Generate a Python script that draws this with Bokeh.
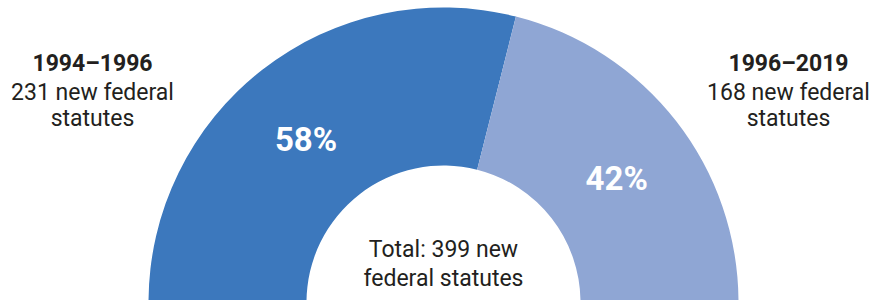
import math
from bokeh.plotting import figure
from bokeh.models import ColumnDataSource
from bokeh.core.properties import value
from bokeh.embed import file_html
from bokeh.resources import INLINE

# ---- data ----
periods = ["1994–1996", "1996–2019"]
counts = [231, 168]
colors = ["#3c78bd", "#8fa6d4"]
total_label = ["Total: 399 new", "federal statutes"]

total = sum(counts)
fracs = [c / total for c in counts]
pct_labels = [f"{round(f * 100)}%" for f in fracs]

# ---- geometry (plot units == pixels, y measured up from the bottom) ----
W, H = 873, 300
cx, cy = 443, -2
r_in, r_out = 137, 295

# semicircle: first slice on the left (from pi going clockwise)
starts, ends, mids = [], [], []
a = math.pi
for f in fracs:
    b = a - f * math.pi
    starts.append(b)
    ends.append(a)
    mids.append((a + b) / 2)
    a = b

src = ColumnDataSource(dict(start=starts, end=ends, color=colors))

p = figure(width=W, height=H, x_range=(0, W), y_range=(0, H),
           output_backend="svg", toolbar_location=None, min_border=0)
p.axis.visible = False
p.grid.visible = False
p.outline_line_color = None
p.background_fill_color = "white"
p.border_fill_color = "white"

p.annular_wedge(x=cx, y=cy, inner_radius=r_in, outer_radius=r_out,
                start_angle="start", end_angle="end", color="color",
                line_color=None, source=src)

# percentage labels near the slice mid-angles, nudged away from the split
r_lab = 213
nudge = math.radians(2.3)
lab_ang = [mids[0] + nudge, mids[1] - nudge]
px = [cx + r_lab * math.cos(m) for m in lab_ang]
py = [cy + r_lab * math.sin(m) for m in lab_ang]
p.text(x=px, y=py, text=pct_labels, text_color="white",
       text_font=value("Roboto"), text_font_style="bold",
       text_font_size="33px", text_align="center", text_baseline="middle")

FONT = value("Roboto")
DARK = "#231f20"

def y(page_y):
    return H - page_y

# side labels (vertical centres of the lines)
side_x = [92, 788]
for sx, per, c in zip(side_x, periods, counts):
    p.text(x=[sx], y=[y(62.5)], text=[per], text_color=DARK, text_font=FONT,
           text_font_style="bold", text_font_size="23px",
           text_align="center", text_baseline="middle")
    p.text(x=[sx, sx], y=[y(91.5), y(118)],
           text=[f"{c} new federal", "statutes"], text_color=DARK,
           text_font=FONT, text_font_size="23px",
           text_align="center", text_baseline="middle")

# total in the centre
p.text(x=[cx, cx], y=[y(249), y(277.5)], text=total_label, text_color=DARK,
       text_font=FONT, text_font_size="23px",
       text_align="center", text_baseline="middle")

open("out.html", "w").write(file_html(p, INLINE))
